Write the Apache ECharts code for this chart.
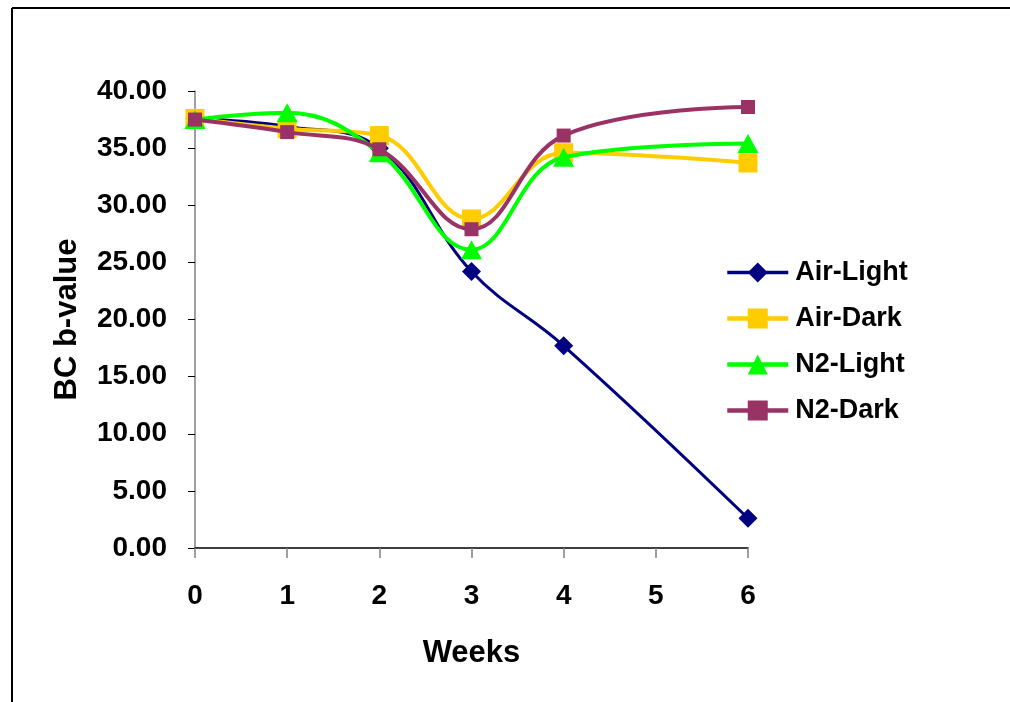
<!DOCTYPE html>
<html>
<head>
<meta charset="utf-8">
<script src="https://cdn.jsdelivr.net/npm/echarts@6/dist/echarts.min.js"></script>
<style>
html,body{margin:0;padding:0;background:#fff;}
#chart{width:1010px;height:702px;}
</style>
</head>
<body>
<div id="chart"></div>
<script>
const weeks = [0, 1, 2, 3, 4, 6];
const seriesNames = ['Air-Light', 'Air-Dark', 'N2-Light', 'N2-Dark'];
const airLight = [37.6, 36.9, 35.0, 24.2, 17.7, 2.6];
const airDark = [37.6, 36.7, 36.1, 28.8, 34.6, 33.7];
const n2Light = [37.5, 38.1, 34.6, 26.1, 34.2, 35.4];
const n2Dark = [37.5, 36.4, 34.9, 27.9, 36.1, 38.6];
const xAxisTitle = 'Weeks';
const yAxisTitle = 'BC b-value';

const FONT = '"Liberation Sans", Arial, sans-serif';
const pairs = (ys) => weeks.map((w, i) => [w, ys[i]]);

const styles = [
  { color: '#000080', symbol: 'diamond', size: 19, width: 3 },
  { color: '#FFCC00', symbol: 'rect', size: 19, width: 4 },
  { color: '#00FF00', symbol: 'triangle', size: [21, 19], width: 4 },
  { color: '#993366', symbol: 'rect', size: 14, width: 4 }
];
const values = [airLight, airDark, n2Light, n2Dark];

const chart = echarts.init(document.getElementById('chart'), null, { renderer: 'canvas' });
chart.setOption({
  animation: false,
  backgroundColor: '#ffffff',
  graphic: [
    { type: 'line', shape: { x1: 12, y1: 8, x2: 1010, y2: 8 }, style: { stroke: '#000', lineWidth: 2 } },
    { type: 'line', shape: { x1: 12, y1: 8, x2: 12, y2: 702 }, style: { stroke: '#000', lineWidth: 2 } }
  ],
  grid: { left: 195, right: 262, top: 91, bottom: 154, containLabel: false },
  legend: {
    orient: 'vertical',
    left: 725,
    top: 259,
    padding: 0,
    itemWidth: 61,
    itemHeight: 25,
    itemGap: 19,
    textStyle: { fontFamily: FONT, fontWeight: 'bold', fontSize: 27, color: '#000', padding: [0, 0, 0, 2], lineHeight: 25 },
    data: seriesNames.map((name, i) => ({ name: name, lineStyle: { width: styles[i].width + 0.5 } }))
  },
  xAxis: {
    type: 'value',
    min: 0, max: 6, interval: 1,
    name: xAxisTitle,
    nameLocation: 'middle',
    nameGap: 90,
    nameTextStyle: { fontFamily: FONT, fontWeight: 'bold', fontSize: 31, color: '#000' },
    axisLine: { show: true, onZero: false, lineStyle: { color: '#000', width: 1.5 } },
    axisTick: { show: true, length: 10, lineStyle: { color: '#808080', width: 1.5 } },
    axisLabel: { margin: 34, fontFamily: FONT, fontWeight: 'bold', fontSize: 28, color: '#000' },
    splitLine: { show: false }
  },
  yAxis: {
    type: 'value',
    min: 0, max: 40, interval: 5,
    name: yAxisTitle,
    nameLocation: 'middle',
    nameGap: 112,
    nameTextStyle: { fontFamily: FONT, fontWeight: 'bold', fontSize: 31, color: '#000' },
    axisLine: { show: true, lineStyle: { color: '#808080', width: 1.5 } },
    axisTick: { show: true, length: 7, lineStyle: { color: '#000', width: 1 } },
    axisLabel: { margin: 28, fontFamily: FONT, fontWeight: 'bold', fontSize: 28, color: '#000',
      formatter: (v) => v.toFixed(2) },
    splitLine: { show: false }
  },
  series: seriesNames.map((name, i) => ({
    name: name,
    type: 'line',
    data: pairs(values[i]),
    smooth: 0.4,
    symbol: styles[i].symbol,
    symbolSize: styles[i].size,
    showAllSymbol: true,
    itemStyle: { color: styles[i].color },
    lineStyle: { color: styles[i].color, width: styles[i].width },
    z: 2 + i
  }))
});
</script>
</body>
</html>
